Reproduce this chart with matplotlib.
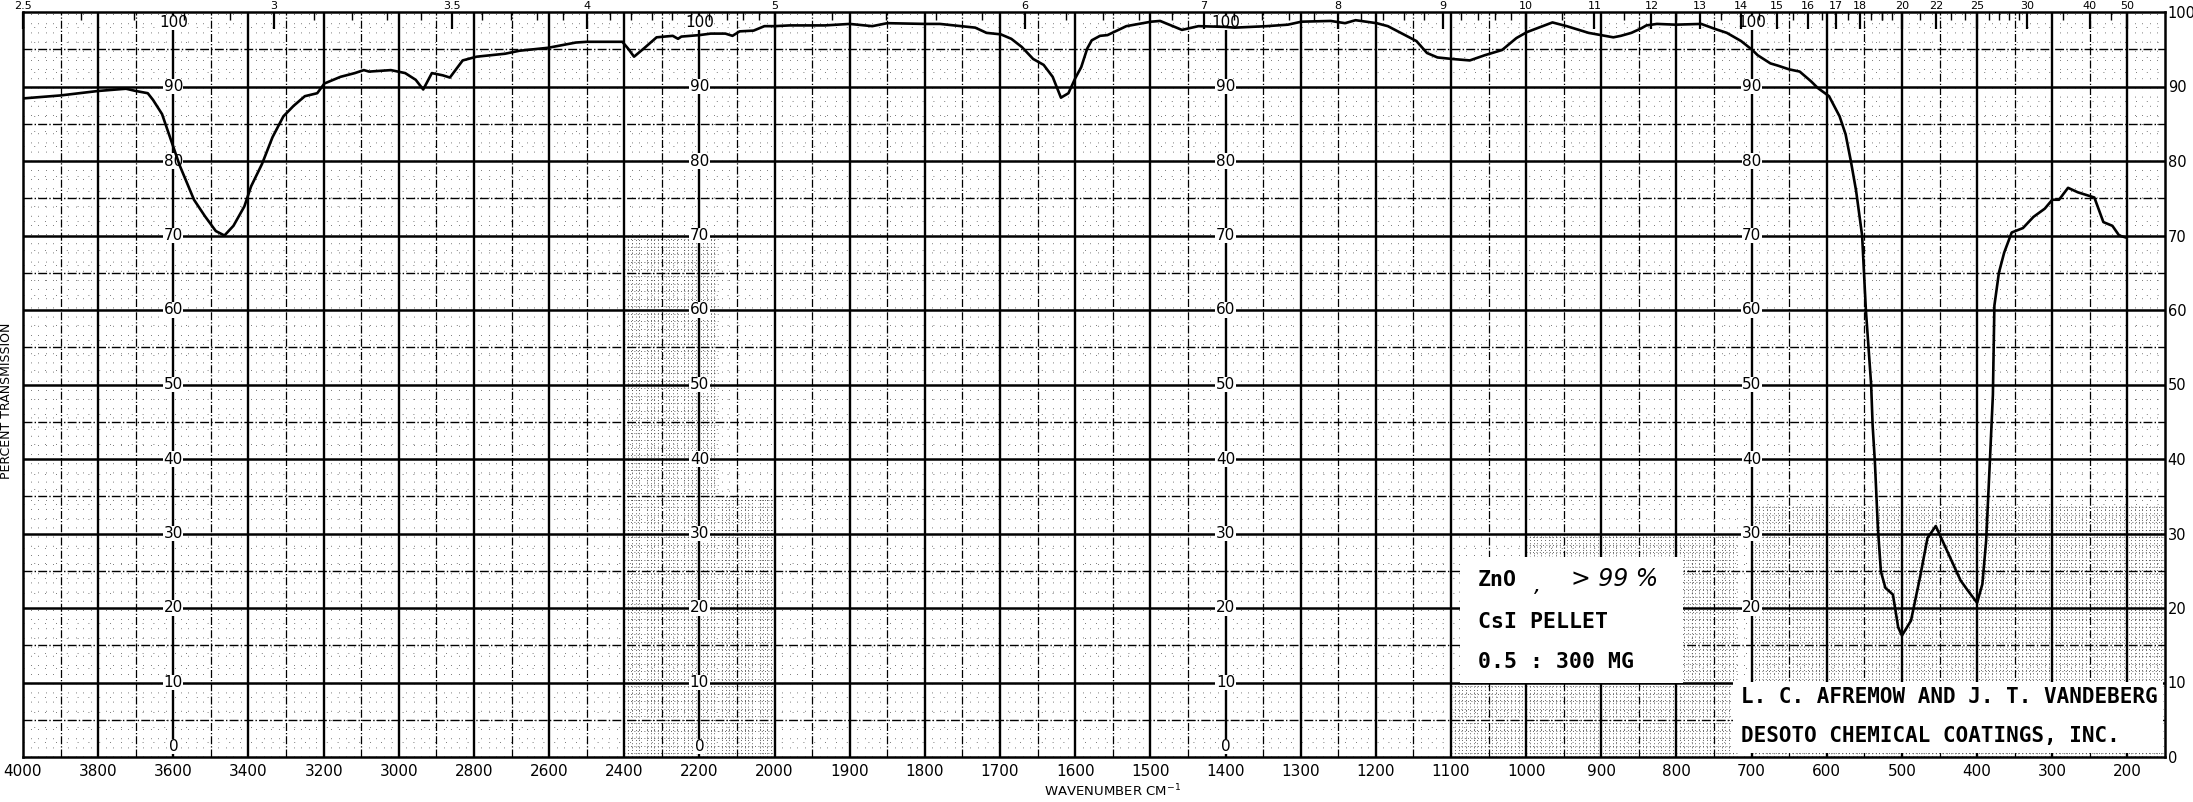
import numpy as np
import matplotlib
matplotlib.use("Agg")
import matplotlib.pyplot as plt

# ---------------- data ----------------
wavenumber = [4000, 3950, 3900, 3800, 3726, 3700, 3668, 3654, 3630, 3600, 3583, 3545, 3516, 3487,
              3464, 3440, 3411, 3393, 3364, 3336, 3307, 3280, 3250, 3217, 3198, 3155, 3117, 3093,
              3079, 3021, 2983, 2955, 2935, 2912, 2883, 2864, 2830, 2793, 2717, 2679, 2602, 2529,
              2500, 2405, 2390, 2374, 2348, 2314, 2271, 2257, 2248, 2200, 2170, 2131, 2112, 2093,
              2056, 2027, 2000, 1980, 1933, 1900, 1870, 1850, 1800, 1780, 1751, 1733, 1718, 1699,
              1685, 1671, 1656, 1642, 1630, 1619, 1609, 1600, 1592, 1584, 1578, 1567, 1557, 1532,
              1499, 1487, 1475, 1458, 1436, 1400, 1388, 1345, 1317, 1299, 1260, 1241, 1227, 1199,
              1184, 1165, 1146, 1132, 1118, 1099, 1075, 1055, 1032, 1013, 999, 965, 946, 917,
              884, 874, 860, 847, 840, 826, 801, 767, 748, 733, 714, 699, 692, 675, 665, 650,
              636, 621, 612, 597, 583, 575, 568, 561, 553, 548, 541, 539, 536, 532, 528, 522,
              512, 505, 500, 488, 476, 466, 455, 446, 434, 422, 412, 400, 393, 388, 383, 379,
              377, 371, 364, 354, 339, 325, 310, 300, 291, 279, 266, 244, 232, 220, 211, 201]
transmission = [88.4, 88.6, 88.8, 89.4, 89.7, 89.4, 89.1, 88.2, 86.3, 81.9, 79.4, 74.8, 72.6, 70.6,
                70.0, 71.3, 73.9, 76.6, 79.6, 83.2, 86.0, 87.4, 88.7, 89.1, 90.4, 91.3, 91.8, 92.2,
                92.0, 92.2, 91.8, 90.9, 89.6, 91.8, 91.5, 91.2, 93.5, 94.0, 94.4, 94.8, 95.2, 95.9,
                96.0, 96.0, 95.1, 94.0, 95.1, 96.6, 96.8, 96.4, 96.7, 96.9, 97.1, 97.1, 96.8, 97.4,
                97.5, 98.1, 98.1, 98.2, 98.2, 98.4, 98.1, 98.5, 98.4, 98.4, 98.1, 97.9, 97.2, 97.0,
                96.4, 95.3, 93.7, 92.9, 91.3, 88.5, 89.1, 91.1, 92.6, 95.1, 96.2, 96.8, 96.9, 98.1,
                98.7, 98.8, 98.3, 97.6, 98.1, 98.0, 97.9, 98.1, 98.3, 98.7, 98.8, 98.5, 98.9, 98.5,
                98.1, 97.1, 96.1, 94.5, 93.9, 93.7, 93.5, 94.2, 94.9, 96.5, 97.3, 98.6, 98.1, 97.2,
                96.6, 96.8, 97.2, 97.8, 98.2, 98.4, 98.3, 98.4, 97.7, 97.2, 96.1, 94.9, 94.2, 93.1,
                92.8, 92.3, 92.0, 90.7, 89.8, 88.7, 86.0, 83.6, 80.0, 76.0, 70.0, 60.0, 50.0, 44.5,
                39.6, 30.7, 24.9, 22.7, 21.8, 17.4, 16.3, 18.3, 24.1, 29.4, 31.0, 29.0, 26.3, 23.7,
                22.3, 20.7, 23.2, 29.0, 39.7, 48.6, 60.6, 65.0, 67.7, 70.4, 71.0, 72.5, 73.6, 74.8,
                74.8, 76.4, 75.8, 75.1, 71.8, 71.3, 70.0, 69.7]

bottom_ticks = [4000, 3800, 3600, 3400, 3200, 3000, 2800, 2600, 2400, 2200, 2000, 1900, 1800,
                1700, 1600, 1500, 1400, 1300, 1200, 1100, 1000, 900, 800, 700, 600, 500, 400,
                300, 200]
wavelength_labels = ["2.5", "3", "3.5", "4", "5", "6", "7", "8", "9", "10", "11", "12", "13",
                     "14", "15", "16", "17", "18", "20", "22", "25", "30", "40", "50"]
percent_labels = [0, 10, 20, 30, 40, 50, 60, 70, 80, 90, 100]
label_columns = [3600, 2200, 1400, 700]
sample_lines = ["CsI PELLET", "0.5 : 300 MG"]
credit_lines = ["L. C. AFREMOW AND J. T. VANDEBERG", "DESOTO CHEMICAL COATINGS, INC."]

# ---------------- scale (4000-2000 compressed 2x) ----------------
def fwd(x):
    x = np.asarray(x, dtype=float)
    return np.where(x > 2000, 2000 + (x - 2000) / 2.0, x)

def inv(u):
    u = np.asarray(u, dtype=float)
    return np.where(u > 2000, 2000 + (u - 2000) * 2.0, u)

TICKFONT = ["Liberation Sans Narrow", "DejaVu Sans"]
MONO = ["DejaVu Sans Mono"]

fig = plt.figure(figsize=(21.93, 8.02), dpi=100)
ax = fig.add_axes([23 / 2193, 45 / 802, (2165 - 23) / 2193, (790 - 45) / 802])
ax.set_xscale("function", functions=(fwd, inv))
ax.set_xlim(4000, 150)
ax.set_ylim(0, 100)

# ---------------- chart-paper grid ----------------
fine_l = [v for v in range(3980, 2000, -20) if v % 100 != 0]
fine_r = [v for v in range(1990, 150, -10) if v % 50 != 0]
ax.vlines(fine_l + fine_r, 0, 100, colors="0.3", lw=0.6, linestyles=[(0, (1, 10))], zorder=1)
ax.hlines([v for v in range(2, 100, 2) if v % 5 != 0], 4000, 150, colors="0.3", lw=0.6,
          linestyles=[(0, (1, 12))], zorder=1)

# denser printed patches of the chart paper
patches_dense = [(2400, 2150, 0, 70), (2150, 2000, 0, 35), (1000, 720, 0, 30), (1100, 1000, 0, 10),
                 (700, 150, 0, 34)]
for n1, n2, y1, y2 in patches_dense:
    step = 10 if n1 > 2000 else 5
    xs = [v for v in range(n1, n2, -step) if v % 50 != 0]
    ax.vlines(xs, y1, y2, colors="0.2", lw=0.6, linestyles=[(0, (1, 3))], zorder=1)
    ax.hlines([v + 0.5 for v in range(y1, y2)], n1, n2, colors="0.2", lw=0.6,
              linestyles=[(0, (1, 3))], zorder=1)

ax.vlines([v for v in range(3900, 2000, -200)], 0, 100, colors="black", lw=0.9,
          linestyles="-.", zorder=2)
ax.vlines([v for v in range(1950, 150, -100)], 0, 100, colors="black", lw=0.9,
          linestyles="-.", zorder=2)
ax.vlines(list(range(3800, 1999, -200)) + list(range(1900, 199, -100)), 0, 100,
          colors="black", lw=1.7, zorder=2)
ax.hlines(list(range(5, 100, 10)), 4000, 150, colors="black", lw=1.0, linestyles="-.", zorder=2)
ax.hlines(list(range(10, 100, 10)), 4000, 150, colors="black", lw=1.8, zorder=2)

for s in ax.spines.values():
    s.set_linewidth(1.8)

# ---------------- boxes ----------------
ax.axvspan(1088, 791, ymin=0.10, ymax=0.268, facecolor="white", edgecolor="none", zorder=3)
ax.axvspan(725, 153, ymin=0.006, ymax=0.101, facecolor="white", edgecolor="none", zorder=3)

ax.text(1064, 23.7, "ZnO", fontfamily=MONO, fontweight="bold", fontsize=15.5,
        va="center", ha="left", zorder=6)
ax.text(985, 23.0, ",", fontfamily=["DejaVu Sans"], fontstyle="italic",
        fontsize=16, va="center", ha="center", zorder=6)
ax.text(941, 23.9, "> 99 %", fontfamily=["DejaVu Sans"], fontstyle="italic",
        fontsize=17, va="center", ha="left", zorder=6)
for txt, yy in zip(sample_lines, [18.1, 12.8]):
    ax.text(1064, yy, txt, fontfamily=MONO, fontweight="bold", fontsize=15.5,
            va="center", ha="left", zorder=6)
for txt, yy in zip(credit_lines, [8.1, 2.8]):
    ax.text(714, yy, txt, fontfamily=MONO, fontweight="bold", fontsize=15,
            va="center", ha="left", zorder=6)

# ---------------- inner percent labels ----------------
for col in label_columns:
    for p in percent_labels:
        if col == 700 and p <= 10:
            continue
        if p == 100:
            yy, va = 99.6, "top"
        elif p == 0:
            yy, va = 0.4, "bottom"
        else:
            yy, va = p, "center"
        ax.text(col, yy, str(p), fontfamily=TICKFONT, fontsize=11, ha="center", va=va,
                zorder=4, bbox=dict(facecolor="white", edgecolor="none", pad=0.3))

# ---------------- curve ----------------
ax.plot(wavenumber, transmission, color="black", lw=1.9, zorder=5, solid_joinstyle="round")

# ---------------- axes ticks ----------------
ax.set_xticks(bottom_ticks)
ax.set_xticklabels([str(v) for v in bottom_ticks], fontfamily=TICKFONT, fontsize=11)
ax.tick_params(axis="x", length=0, pad=5)
ax.set_yticks([])

axr = ax.twinx()
axr.set_ylim(0, 100)
axr.set_yticks(percent_labels)
axr.set_yticklabels([str(p) for p in percent_labels], fontfamily=TICKFONT, fontsize=10.5)
axr.tick_params(axis="y", length=0, pad=2)
for s in axr.spines.values():
    s.set_visible(False)

axt = ax.twiny()
axt.set_xscale("function", functions=(fwd, inv))
axt.set_xlim(4000, 150)
wl_vals = [float(w) for w in wavelength_labels]
axt.set_xticks([1e4 / w for w in wl_vals])
axt.set_xticklabels(wavelength_labels, fontfamily=TICKFONT, fontsize=8)
minor_wl = ([round(2.5 + 0.1 * i, 2) for i in range(1, 25)] +
            [round(5 + 0.2 * i, 2) for i in range(1, 25)] +
            [round(10 + 0.5 * i, 2) for i in range(1, 20)] + [19, 21, 23, 24, 26, 27, 28, 29, 35, 45])
minor_wl = [w for w in minor_wl if all(abs(w - v) > 1e-6 for v in wl_vals)]
axt.set_xticks([1e4 / w for w in minor_wl], minor=True)
axt.tick_params(axis="x", which="major", direction="in", length=12, width=1.6, pad=0.5)
axt.tick_params(axis="x", which="minor", direction="in", length=6, width=1.0)
for s in axt.spines.values():
    s.set_visible(False)

# ---------------- titles ----------------
ax.text(1550, -0.046, "WAVENUMBER CM$^{-1}$", transform=ax.get_xaxis_transform(),
        fontfamily=TICKFONT, fontsize=9.5, ha="center", va="center")
fig.text(7 / 2193, 0.5, "PERCENT TRANSMISSION", rotation=90, fontfamily=TICKFONT,
         fontsize=9, ha="center", va="center")

fig.savefig("out.png", dpi=100)
